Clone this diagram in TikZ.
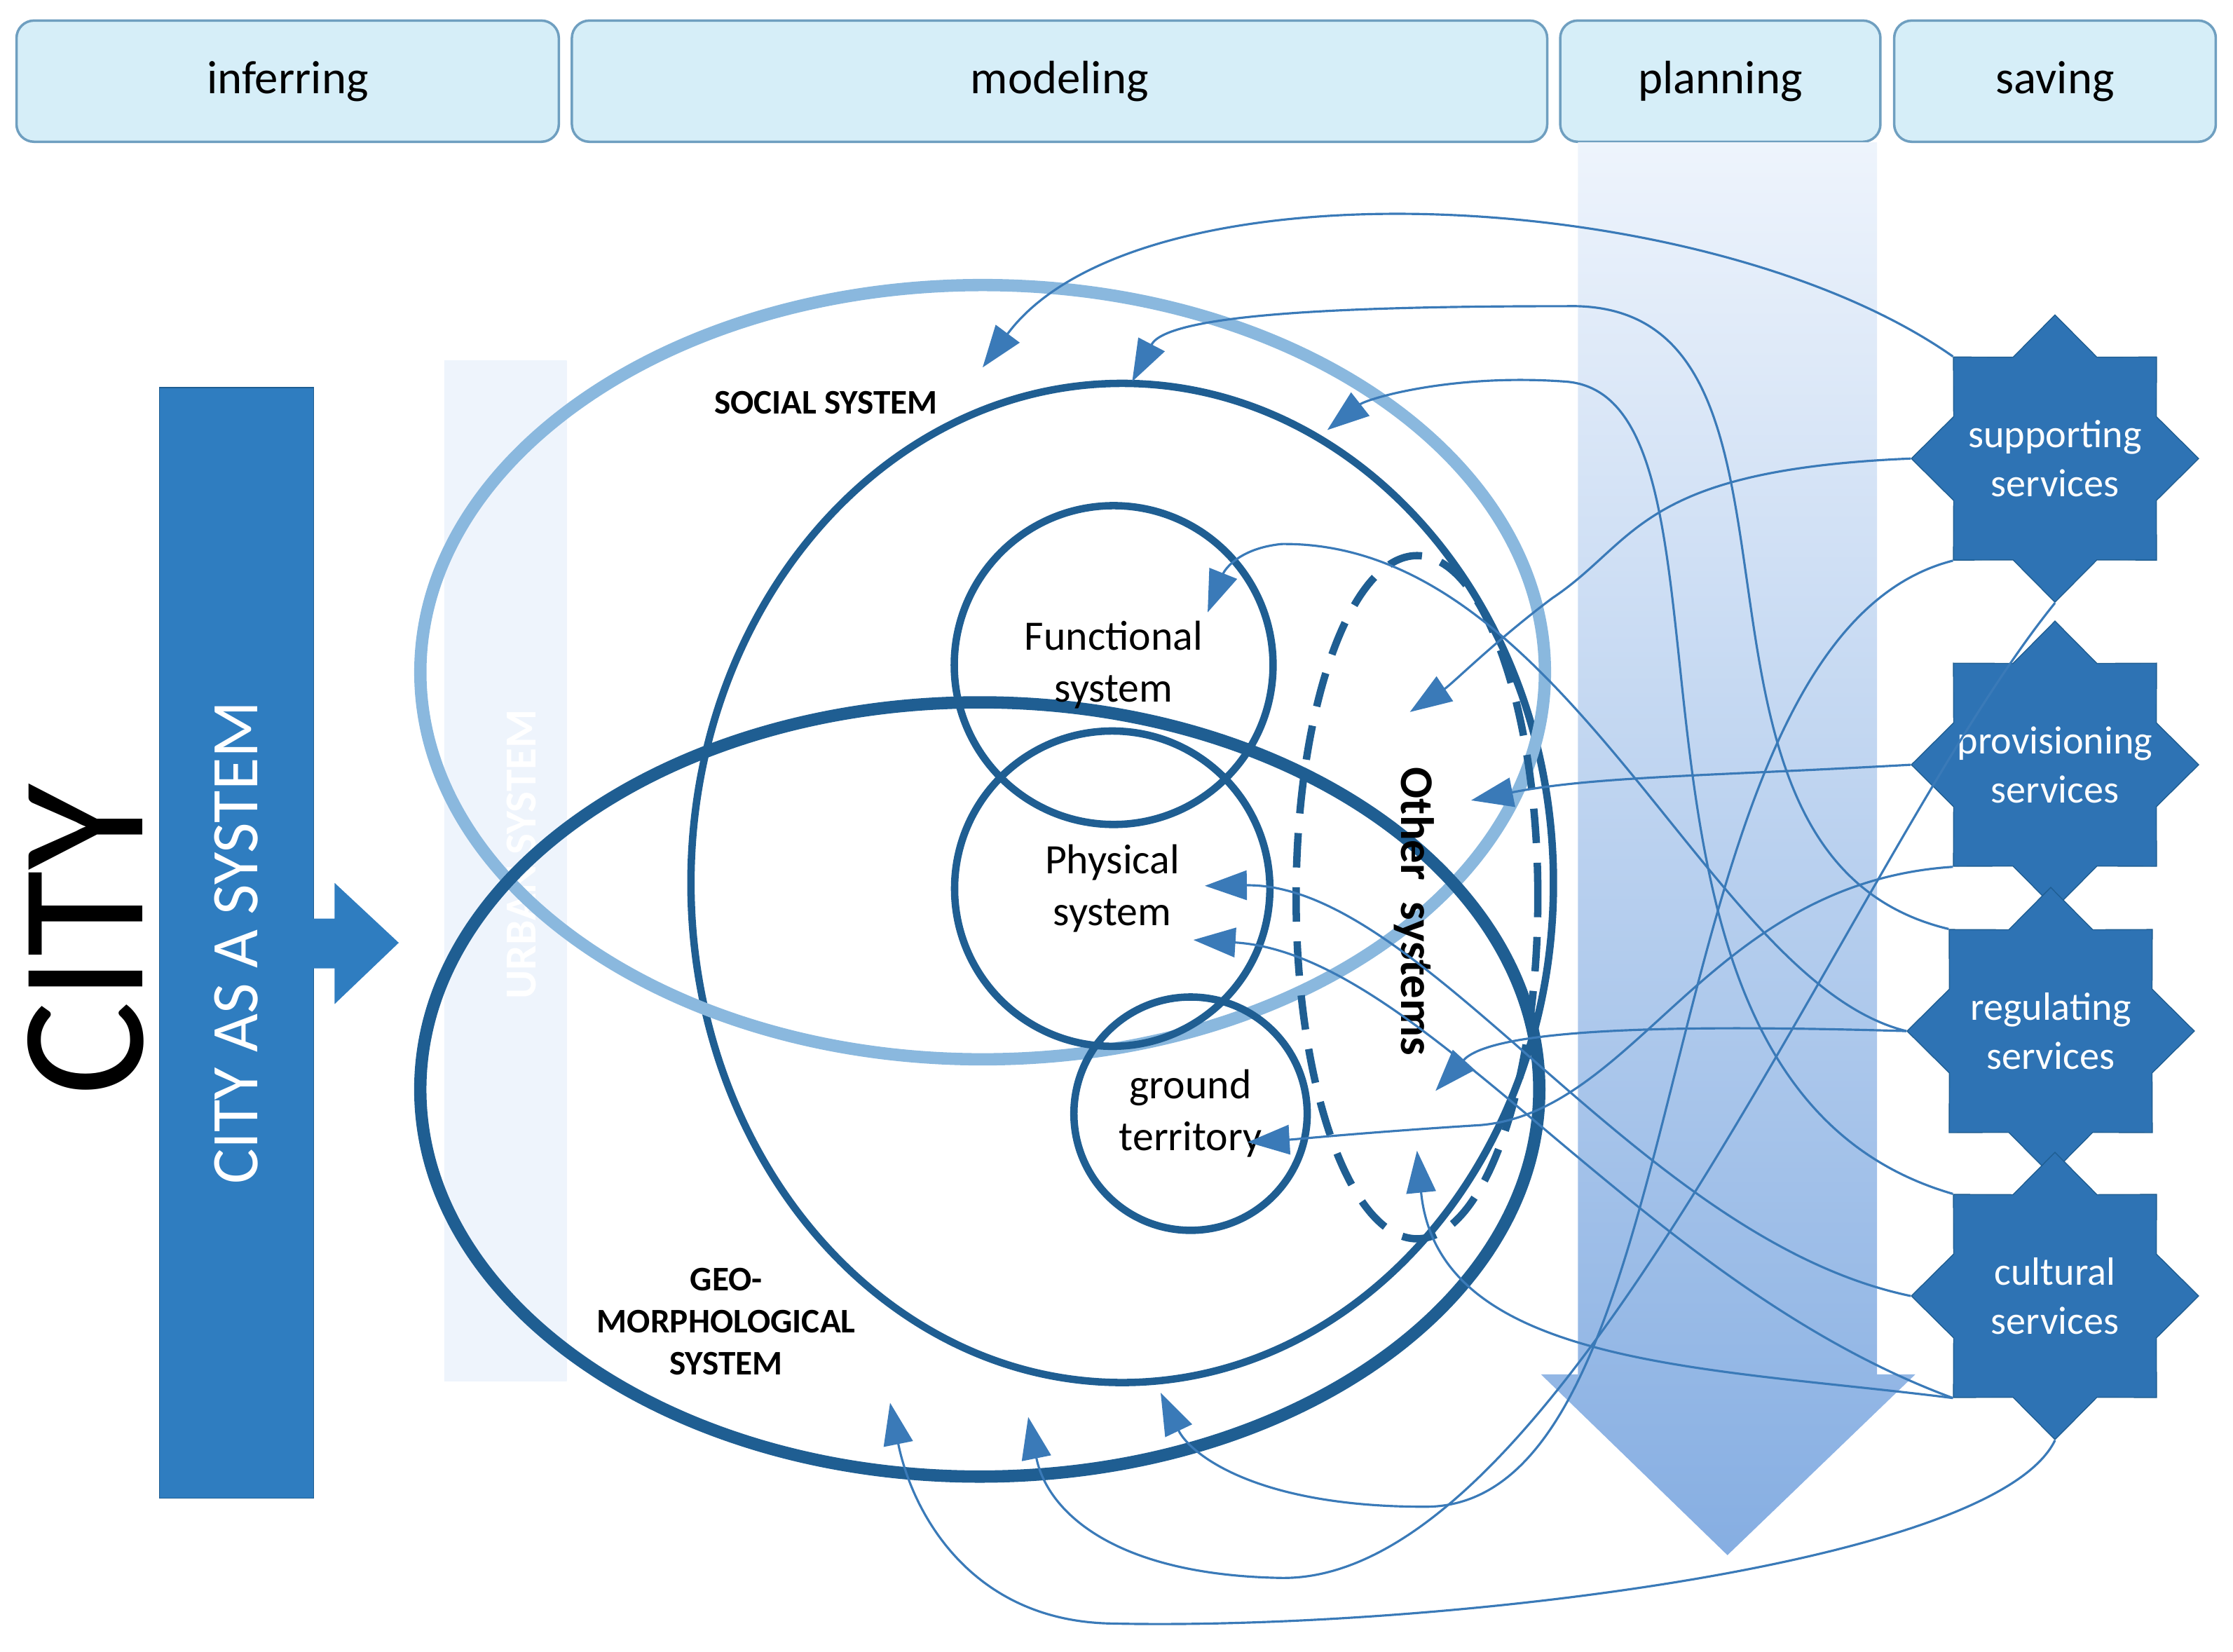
\documentclass[tikz,border=0pt]{standalone}
\usepackage{fontspec}
\setmainfont{Carlito}
\usetikzlibrary{shapes.geometric,arrows.meta}
\definecolor{hdrfill}{HTML}{D6EEF8}
\definecolor{hdrline}{HTML}{6F9FC0}
\definecolor{citybar}{HTML}{2F7DC0}
\definecolor{starblue}{HTML}{2E73B4}
\definecolor{socblue}{HTML}{8AB8DE}
\definecolor{geoblue}{HTML}{1F5E92}
\definecolor{linkblue}{HTML}{3A7AB8}
\definecolor{fadelight}{HTML}{EEF4FC}
\definecolor{fadeblue}{HTML}{86AEE2}
\tikzset{
  header/.style={draw=hdrline, fill=hdrfill, rounded corners=0.25cm, line width=1pt,
    minimum height=1.73cm, font=\fontsize{19}{22}\selectfont},
  service/.style={star, star points=8, star point ratio=1.31, minimum size=4.1cm,
    fill=starblue, draw=geoblue, inner sep=0pt},
  servtext/.style={text=white, align=center, font=\fontsize{16}{20}\selectfont},
  subsys/.style={circle, draw=geoblue, line width=3pt, align=center, inner sep=0pt,
    font=\fontsize{17}{21}\selectfont},
  link/.style={linkblue, line width=0.9pt, -{Triangle[length=0.6cm,width=0.42cm]}},
  tag/.style={font=\bfseries\fontsize{14}{17}\selectfont, align=center}
}
\begin{document}
\begin{tikzpicture}[x=0.02032cm, y=-0.02032cm]
\useasboundingbox (0,0) rectangle (1568,1160);
% headers
\node[header, minimum width=7.74cm] (inf) at (202,57) {inferring};
\node[header, minimum width=13.92cm] (mod) at (744,57) {modeling};
\node[header, minimum width=4.57cm] (pla) at (1208,57) {planning};
\node[header, minimum width=4.59cm] (sav) at (1443,57) {saving};
% planning arrow
\shade[top color=fadelight, bottom color=fadeblue]
  (1108,100) -- (1318,100) -- (1318,965) -- (1345,965) -- (1213,1092) -- (1082,965) -- (1108,965) -- cycle;
% city
\node[rotate=90, font=\fontsize{72}{80}\selectfont] (city) at (60,660) {CITY};
\node[fill=citybar, draw=geoblue, minimum width=2.2cm, minimum height=15.85cm] (bar) at (166,662) {};
\node[rotate=90, text=white, font=\fontsize{27}{30}\selectfont] at (bar) {CITY AS A SYSTEM};
\fill[citybar] (220,645) -- (235,645) -- (235,620) -- (280,662) -- (235,705) -- (235,680) -- (220,680) -- cycle;
% urban system bar
\shade[top color=fadelight, middle color=fadeblue, bottom color=fadelight]
  (312,253) rectangle (398,970);
\node[rotate=90, text=white, font=\bfseries\fontsize{18}{21}\selectfont] (urban) at (366,600) {URBAN SYSTEM};
% systems
\node[ellipse, draw=geoblue, line width=3pt, minimum width=12.31cm, minimum height=14.26cm] (outer) at (788,620) {};
\node[ellipse, draw=socblue, line width=5pt, minimum width=16.05cm, minimum height=11.05cm] (social) at (690,472) {};
\node[ellipse, draw=geoblue, line width=5pt, minimum width=15.97cm, minimum height=11.05cm] (geo) at (688,765) {};
\node[subsys, minimum size=4.55cm] (func) at (782,467) {Functional\\system};
\node[subsys, minimum size=4.5cm] (phys) at (781,624) {Physical\\system};
\node[subsys, minimum size=3.33cm] (ground) at (836,782) {ground\\territory};
\node[ellipse, draw=geoblue, dashed, dash pattern=on 14pt off 8pt, line width=3pt,
  minimum width=3.45cm, minimum height=9.75cm] (other) at (995,630) {};
\node[rotate=-90, font=\bfseries\fontsize{19}{22}\selectfont] at (993,640) {Other\ \ systems};
\node[tag] (soclab) at (580,283) {SOCIAL SYSTEM};
\node[tag] (geolab) at (510,928) {GEO-\\MORPHOLOGICAL\\SYSTEM};
% services
\node[service] (supp) at (1443,322) {};
\node[service] (prov) at (1443,537) {};
\node[service] (reg) at (1440,724) {};
\node[service] (cult) at (1443,910) {};
\node[servtext] at (supp) {supporting\\services};
\node[servtext] at (prov) {provisioning\\services};
\node[servtext] at (reg) {regulating\\services};
\node[servtext] at (cult) {cultural\\services};
% links
\coordinate (t1) at (690,258);
\coordinate (t2) at (795,268);
\coordinate (t3) at (932,302);
\coordinate (t4) at (848,430);
\coordinate (t5) at (990,500);
\coordinate (t6) at (1033,562);
\coordinate (t7) at (846,622);
\coordinate (t8) at (838,660);
\coordinate (t9) at (1008,766);
\coordinate (t10) at (876,802);
\coordinate (t11) at (995,808);
\coordinate (t12) at (815,978);
\coordinate (t13) at (722,995);
\coordinate (t14) at (625,985);
\draw[link] (supp.north west) .. controls (1200,130) and (800,110) .. (t1);
\draw[link] (reg.north west) .. controls (1150,600) and (1300,210) .. (1100,215) .. controls (950,215) and (820,220) .. (t2);
\draw[link] (cult.north west) .. controls (1100,760) and (1240,280) .. (1100,268) .. controls (1020,262) and (960,280) .. (t3);
\draw[link] (reg.west) .. controls (1200,690) and (1100,380) .. (900,382) .. controls (870,385) and (860,400) .. (t4);
\draw[link] (supp.west) .. controls (1150,330) and (1150,380) .. (1090,420) .. controls (1050,450) and (1020,480) .. (t5);
\draw[link] (prov.west) .. controls (1200,545) and (1120,545) .. (t6);
\draw[link] (cult.west) .. controls (1150,870) and (1000,620) .. (t7);
\draw[link] (cult.south west) .. controls (1150,900) and (1000,670) .. (t8);
\draw[link] (reg.west) .. controls (1200,720) and (1050,720) .. (t9);
\draw[link] (prov.south west) .. controls (1200,620) and (1150,780) .. (1040,790) .. controls (960,795) and (910,800) .. (t10);
\draw[link] (cult.south west) .. controls (1200,960) and (1010,960) .. (t11);
\draw[link] (supp.south west) .. controls (1150,450) and (1200,1060) .. (1000,1058) .. controls (880,1058) and (835,1020) .. (t12);
\draw[link] (supp.south) .. controls (1300,600) and (1100,1110) .. (900,1108) .. controls (780,1106) and (735,1060) .. (t13);
\draw[link] (cult.south) .. controls (1400,1100) and (1000,1145) .. (780,1140) .. controls (680,1138) and (640,1060) .. (t14);
\end{tikzpicture}
\end{document}
